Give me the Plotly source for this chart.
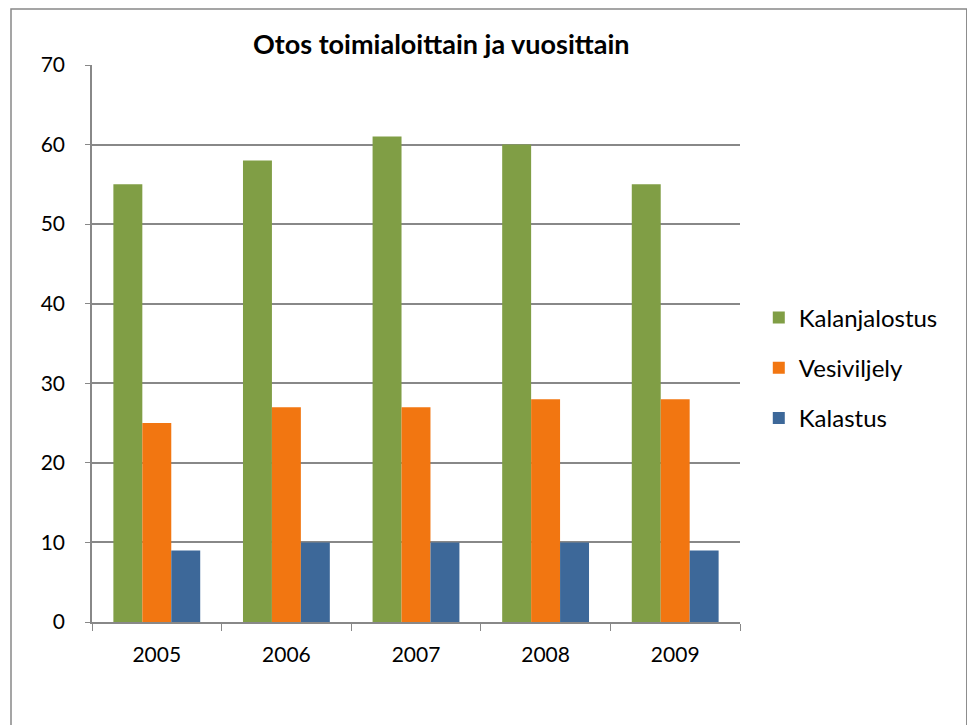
import plotly.graph_objects as go

years = ["2005", "2006", "2007", "2008", "2009"]
kalanjalostus = [55, 58, 61, 60, 55]
vesiviljely = [25, 27, 27, 28, 28]
kalastus = [9, 10, 10, 10, 9]

series = [
    ("Kalanjalostus", kalanjalostus, "#809E45"),
    ("Vesiviljely", vesiviljely, "#F27611"),
    ("Kalastus", kalastus, "#3D6899"),
]

FONT = "Lato, Open Sans, sans-serif"

fig = go.Figure()
for name, vals, col in series:
    fig.add_trace(go.Bar(
        x=years, y=vals, name=name,
        marker=dict(color=col, line=dict(width=0)),
        legendgroup=name,
    ))

# page body has an 8px margin, so the figure is a bit smaller and shifted
fig.update_layout(
    width=967, height=717,
    margin=dict(l=84, r=235, t=57, b=103),
    paper_bgcolor="white", plot_bgcolor="white",
    barmode="group", bargap=0.33, bargroupgap=0,
    font=dict(family=FONT, size=21, color="black"),
    showlegend=True,
    legend=dict(
        x=1.029, y=0.456, xanchor="left", yanchor="middle",
        font=dict(size=24), tracegroupgap=16,
        itemwidth=30,
    ),
    annotations=[dict(
        text="<b>Otos toimialoittain ja vuosittain</b>",
        x=0.54, y=1.0, xref="paper", yref="paper",
        xanchor="center", yanchor="bottom", yshift=3,
        showarrow=False, font=dict(size=27, family=FONT),
    )],
    shapes=[dict(
        type="rect", xref="paper", yref="paper",
        x0=-0.125, x1=1.350, y0=-0.25, y1=1.1005,
        line=dict(color="#888888", width=1.5),
    )],
)

fig.update_xaxes(
    showline=True, linecolor="#888888", linewidth=1.5,
    ticks="outside", ticklen=7, tickcolor="#888888", tickson="boundaries",
    showgrid=False, tickfont=dict(size=21), ticklabelstandoff=13,
)
fig.update_yaxes(
    range=[0, 70], dtick=10,
    showline=True, linecolor="#888888", linewidth=1.5,
    ticks="outside", ticklen=5, tickcolor="#888888",
    showgrid=True, gridcolor="#888888", gridwidth=1.5,
    zeroline=False, tickfont=dict(size=21), ticklabelstandoff=16,
)

fig.write_html("out.html")
